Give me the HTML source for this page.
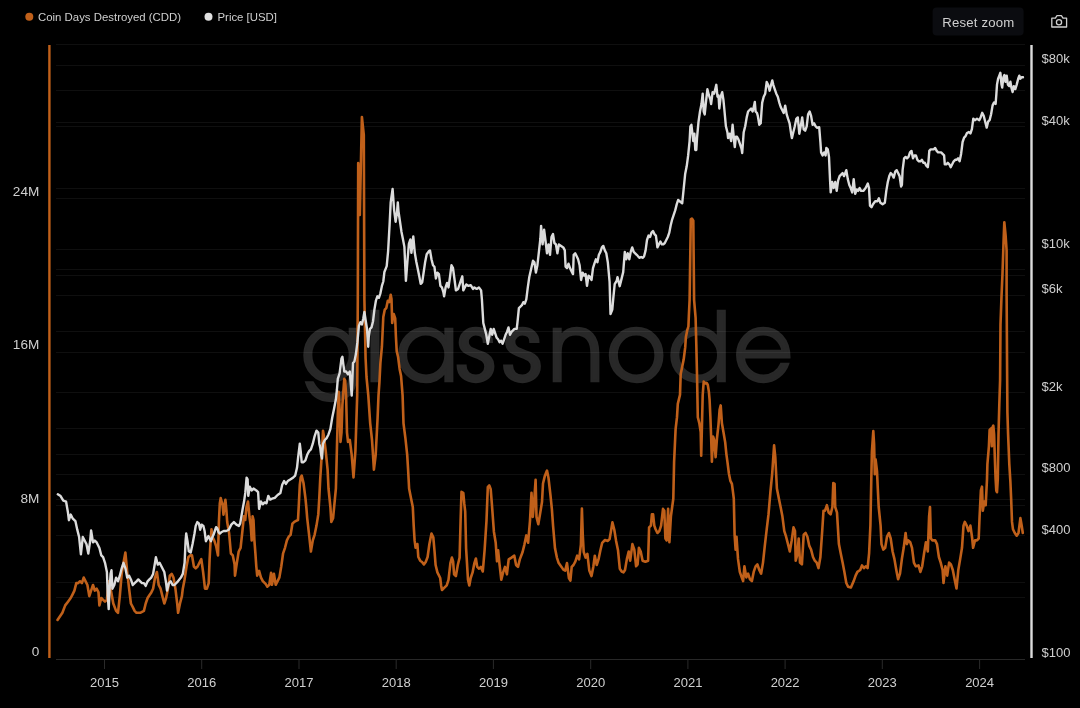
<!DOCTYPE html>
<html><head><meta charset="utf-8"><title>Coin Days Destroyed (CDD)</title>
<style>
html,body{margin:0;padding:0;background:#000;width:1080px;height:708px;overflow:hidden}
svg{display:block;will-change:transform}
text{font-family:"Liberation Sans",Arial,sans-serif}
</style></head><body>
<svg width="1080" height="708" viewBox="0 0 1080 708">
<rect width="1080" height="708" fill="#000"/>

<text transform="matrix(0.92 0 0 0.945 0 21.01)" x="326.7 397.6 429.7 495.7 546.3 595.6 658.8 725.6 796.9" y="381" font-size="100" fill="#282828" stroke="#282828" stroke-width="2.4" style="font-family:'TeX Gyre Adventor','Liberation Sans',sans-serif">gla<tspan textLength="43.5" lengthAdjust="spacingAndGlyphs">s</tspan><tspan textLength="43.5" lengthAdjust="spacingAndGlyphs">s</tspan>node</text>
<g stroke="#ffffff" stroke-opacity="0.06" stroke-width="1" shape-rendering="crispEdges">
<line x1="56" y1="44.5" x2="1025" y2="44.5"/>
<line x1="56" y1="65.5" x2="1025" y2="65.5"/>
<line x1="56" y1="90.5" x2="1025" y2="90.5"/>
<line x1="56" y1="122.5" x2="1025" y2="122.5"/>
<line x1="56" y1="126.5" x2="1025" y2="126.5"/>
<line x1="56" y1="188.5" x2="1025" y2="188.5"/>
<line x1="56" y1="198.5" x2="1025" y2="198.5"/>
<line x1="56" y1="249.5" x2="1025" y2="249.5"/>
<line x1="56" y1="269.5" x2="1025" y2="269.5"/>
<line x1="56" y1="275.5" x2="1025" y2="275.5"/>
<line x1="56" y1="295.5" x2="1025" y2="295.5"/>
<line x1="56" y1="331.5" x2="1025" y2="331.5"/>
<line x1="56" y1="352.5" x2="1025" y2="352.5"/>
<line x1="56" y1="392.5" x2="1025" y2="392.5"/>
<line x1="56" y1="428.5" x2="1025" y2="428.5"/>
<line x1="56" y1="454.5" x2="1025" y2="454.5"/>
<line x1="56" y1="474.5" x2="1025" y2="474.5"/>
<line x1="56" y1="499.5" x2="1025" y2="499.5"/>
<line x1="56" y1="505.5" x2="1025" y2="505.5"/>
<line x1="56" y1="535.5" x2="1025" y2="535.5"/>
<line x1="56" y1="582.5" x2="1025" y2="582.5"/>
<line x1="56" y1="597.5" x2="1025" y2="597.5"/>
</g>
<line x1="56" y1="659.5" x2="1025" y2="659.5" stroke="#282828" stroke-width="1"/>
<g stroke="#2a2a2a" stroke-width="1">
<line x1="104.5" y1="659" x2="104.5" y2="669"/>
<line x1="201.7" y1="659" x2="201.7" y2="669"/>
<line x1="299.0" y1="659" x2="299.0" y2="669"/>
<line x1="396.2" y1="659" x2="396.2" y2="669"/>
<line x1="493.4" y1="659" x2="493.4" y2="669"/>
<line x1="590.7" y1="659" x2="590.7" y2="669"/>
<line x1="687.9" y1="659" x2="687.9" y2="669"/>
<line x1="785.1" y1="659" x2="785.1" y2="669"/>
<line x1="882.3" y1="659" x2="882.3" y2="669"/>
<line x1="979.6" y1="659" x2="979.6" y2="669"/>
</g>
<rect x="48.2" y="45" width="2.4" height="613" fill="#c0601a"/>
<rect x="1030.3" y="45" width="2.4" height="613" fill="#dcdcdc"/>
<g font-size="13" fill="#cfcfcf">
<text x="39.3" y="656.0" text-anchor="end" font-size="13.6">0</text>
<text x="39.3" y="502.7" text-anchor="end" font-size="13.6">8M</text>
<text x="39.3" y="349.4" text-anchor="end" font-size="13.6">16M</text>
<text x="39.3" y="196.1" text-anchor="end" font-size="13.6">24M</text>
<text x="1041.6" y="656.7">$100</text>
<text x="1041.6" y="533.6">$400</text>
<text x="1041.6" y="472.0">$800</text>
<text x="1041.6" y="390.6">$2k</text>
<text x="1041.6" y="293.1">$6k</text>
<text x="1041.6" y="247.7">$10k</text>
<text x="1041.6" y="124.6">$40k</text>
<text x="1041.6" y="63.0">$80k</text>
<text x="104.5" y="686.9" text-anchor="middle">2015</text>
<text x="201.7" y="686.9" text-anchor="middle">2016</text>
<text x="299.0" y="686.9" text-anchor="middle">2017</text>
<text x="396.2" y="686.9" text-anchor="middle">2018</text>
<text x="493.4" y="686.9" text-anchor="middle">2019</text>
<text x="590.7" y="686.9" text-anchor="middle">2020</text>
<text x="687.9" y="686.9" text-anchor="middle">2021</text>
<text x="785.1" y="686.9" text-anchor="middle">2022</text>
<text x="882.3" y="686.9" text-anchor="middle">2023</text>
<text x="979.6" y="686.9" text-anchor="middle">2024</text>
</g>
<path d="M57.5,620.0 L62.4,612.8 L65.2,605.4 L68.0,601.7 L70.7,598.0 L72.6,594.3 L74.4,590.6 L76.3,583.1 L78.1,583.1 L80.0,581.3 L81.9,583.1 L83.7,577.6 L85.6,581.3 L87.4,585.0 L89.3,596.1 L91.1,590.6 L93.0,585.0 L94.8,590.6 L96.7,588.7 L98.5,592.4 L99.4,605.4 L101.3,598.0 L103.1,599.8 L105.0,601.7 L106.9,599.8 L108.7,581.3 L110.6,588.7 L113.3,603.5 L116.1,610.9 L118.0,612.8 L119.8,596.1 L121.7,573.9 L123.5,562.8 L125.4,552.6 L127.2,572.0 L129.1,588.7 L130.9,603.5 L132.8,607.2 L134.6,610.9 L136.5,612.8 L140.2,612.8 L143.9,610.9 L145.7,603.5 L147.6,598.0 L149.4,595.2 L151.3,592.4 L153.1,588.7 L155.0,577.6 L156.9,572.0 L158.7,585.0 L160.6,588.7 L162.4,596.1 L164.3,603.5 L166.1,598.0 L168.0,588.7 L169.8,575.7 L171.7,573.9 L173.5,577.6 L175.4,588.7 L177.2,603.5 L178.1,612.8 L180.0,603.5 L181.9,596.1 L182.8,588.7 L184.6,579.4 L186.5,566.5 L188.3,557.2 L190.2,555.4 L192.0,555.4 L193.9,566.5 L195.7,568.3 L197.6,566.5 L199.4,562.8 L201.3,559.1 L203.1,572.0 L205.0,588.7 L206.9,588.7 L208.7,583.1 L209.6,559.1 L210.6,540.6 L211.5,529.4 L212.4,536.9 L214.3,540.6 L216.1,546.1 L218.0,555.4 L218.9,522.0 L219.8,503.5 L220.7,498.0 L222.6,505.4 L223.5,514.6 L224.4,505.4 L225.4,499.8 L226.3,509.1 L227.2,522.0 L229.1,533.1 L230.9,553.5 L232.8,555.4 L234.6,564.6 L235.0,575.6 L236.9,562.6 L238.7,551.5 L240.6,547.8 L242.4,531.1 L243.9,516.3 L245.2,520.0 L246.5,507.0 L248.0,501.5 L249.4,516.3 L250.7,525.6 L251.7,540.4 L252.6,516.3 L253.5,520.0 L254.4,540.4 L255.4,553.3 L256.3,566.3 L257.2,575.6 L259.1,570.9 L260.9,577.4 L262.8,581.1 L265.6,583.9 L267.4,586.7 L269.3,584.8 L271.1,572.8 L272.0,584.8 L273.9,573.7 L275.7,584.8 L277.6,581.1 L279.4,577.4 L281.3,566.3 L283.1,553.3 L285.0,547.8 L286.9,540.4 L288.7,536.7 L290.6,534.8 L292.4,523.7 L294.3,521.9 L296.1,520.9 L298.0,520.0 L298.9,503.3 L299.8,484.8 L300.7,477.4 L301.7,475.6 L303.5,483.0 L305.4,497.8 L306.3,507.0 L307.2,518.1 L309.1,534.8 L310.9,551.5 L312.8,540.4 L314.6,534.8 L316.5,525.6 L318.3,514.4 L319.3,497.8 L320.2,479.3 L322.0,451.0 L323.0,430.7 L323.9,436.3 L325.7,451.0 L327.6,469.6 L328.5,488.5 L330.4,507.0 L331.3,521.9 L333.1,518.1 L335.0,497.8 L335.9,488.5 L337.8,414.0 L338.7,391.9 L339.6,408.5 L340.5,441.9 L341.5,432.6 L342.4,404.8 L344.3,378.9 L345.2,380.7 L346.1,395.6 L347.0,432.6 L348.0,441.9 L349.8,440.0 L351.7,454.8 L353.5,477.4 L355.4,451.0 L357.2,395.6 L357.8,300.0 L358.2,163.0 L359.8,215.0 L361.9,117.0 L363.8,135.0 L364.4,300.0 L365.6,358.5 L366.5,377.0 L368.3,395.6 L370.2,423.3 L372.0,440.0 L373.0,454.8 L373.9,469.6 L375.7,454.8 L377.6,417.8 L378.5,395.6 L379.4,382.6 L380.4,363.0 L381.9,346.7 L383.3,317.0 L384.8,309.6 L386.3,308.0 L387.8,300.7 L389.3,302.0 L390.7,294.8 L391.5,299.0 L392.2,323.0 L393.0,317.0 L393.7,314.0 L395.2,318.5 L395.9,336.3 L396.7,351.1 L398.1,357.0 L399.6,368.9 L401.1,376.3 L402.6,395.6 L403.5,423.3 L405.4,438.1 L407.2,454.8 L408.1,469.6 L409.1,488.5 L410.9,497.8 L412.8,507.0 L413.7,525.6 L414.6,540.4 L415.6,547.8 L417.4,544.0 L418.3,557.0 L420.2,560.7 L422.0,562.0 L423.9,564.4 L425.7,562.0 L427.6,557.0 L429.4,544.0 L431.5,533.5 L433.3,537.2 L434.6,552.0 L435.6,565.0 L437.4,572.4 L439.3,576.1 L440.2,578.0 L441.1,585.4 L442.0,590.0 L443.9,588.1 L446.7,585.4 L448.5,579.8 L450.4,563.1 L451.9,557.6 L453.1,561.3 L454.1,574.3 L455.9,576.1 L457.8,565.0 L459.6,557.6 L460.6,520.6 L461.5,491.9 L463.3,492.8 L464.3,503.9 L465.2,511.3 L466.1,548.3 L468.0,579.8 L469.3,585.4 L470.7,578.0 L472.6,572.4 L474.4,563.1 L475.9,558.5 L477.2,566.9 L479.1,568.7 L480.9,566.9 L482.8,571.5 L484.6,550.2 L486.5,520.6 L487.8,487.2 L489.3,485.4 L490.7,489.1 L492.0,505.7 L493.9,531.7 L495.7,542.8 L497.0,561.3 L498.1,550.2 L499.4,563.1 L501.3,579.8 L503.1,572.4 L505.0,566.9 L506.9,574.3 L508.7,559.4 L511.5,557.6 L514.3,555.7 L516.1,565.0 L518.0,566.9 L519.8,559.4 L522.6,552.0 L524.4,544.6 L526.3,535.4 L528.1,542.8 L530.0,520.6 L531.5,492.8 L532.8,516.9 L534.1,502.0 L535.6,479.8 L536.5,516.9 L538.3,524.3 L540.2,513.1 L542.0,502.0 L543.0,483.5 L544.8,476.1 L547.0,470.6 L548.5,478.0 L550.4,494.6 L551.9,509.4 L553.1,526.1 L555.0,548.3 L556.9,557.6 L558.7,563.1 L561.5,566.9 L563.3,569.6 L565.2,570.6 L567.0,563.1 L568.9,578.0 L570.4,580.7 L571.7,566.9 L573.5,565.0 L575.4,561.3 L577.2,555.7 L579.1,559.4 L580.9,544.6 L581.9,508.5 L582.8,535.4 L583.7,552.0 L585.6,557.6 L587.4,553.9 L589.3,570.6 L591.5,576.1 L593.3,566.9 L594.8,555.7 L596.7,565.0 L598.5,559.4 L600.4,550.2 L602.2,542.8 L605.0,540.0 L607.8,540.9 L609.6,539.1 L611.5,528.0 L612.4,522.4 L614.3,529.8 L616.1,540.9 L618.0,550.2 L619.8,568.7 L621.7,571.5 L623.5,572.4 L625.0,570.0 L626.9,558.9 L628.7,551.5 L630.2,560.7 L632.4,544.1 L634.3,549.6 L636.1,566.3 L637.6,564.4 L638.9,547.8 L640.7,551.5 L642.6,560.7 L645.4,561.7 L648.1,560.7 L649.1,527.4 L650.9,525.6 L651.9,514.4 L653.1,514.4 L654.3,525.6 L655.6,529.3 L657.4,533.0 L659.3,531.1 L661.1,525.6 L663.0,508.9 L664.3,510.7 L665.4,538.5 L666.7,540.4 L668.1,508.9 L669.4,542.2 L670.9,516.3 L673.3,498.7 L674.1,461.7 L675.6,429.1 L677.0,417.2 L677.8,403.9 L680.0,394.8 L680.7,374.0 L682.2,366.7 L683.7,359.3 L685.2,347.4 L685.9,337.0 L687.4,329.6 L688.4,326.7 L688.9,314.8 L689.6,300.0 L690.8,219.3 L691.9,218.5 L693.3,220.7 L694.1,300.0 L695.6,317.8 L696.3,344.4 L697.0,374.0 L697.8,417.2 L699.3,423.1 L700.7,432.0 L701.2,455.7 L701.8,432.0 L702.7,395.0 L703.7,381.5 L705.2,383.5 L706.7,383.0 L707.8,385.0 L708.9,391.9 L709.6,400.0 L710.4,417.2 L711.1,436.5 L711.9,461.7 L713.0,436.5 L714.1,439.4 L715.6,457.2 L717.0,438.0 L718.5,424.6 L719.6,409.8 L720.7,405.4 L721.9,423.1 L723.7,433.5 L725.2,442.4 L726.4,454.3 L727.4,461.7 L728.9,473.5 L730.4,480.9 L731.9,483.9 L732.9,491.3 L733.8,498.7 L734.6,534.8 L735.6,549.6 L736.5,536.7 L738.0,558.9 L739.8,571.9 L741.7,577.4 L743.1,581.1 L744.4,566.3 L746.3,577.4 L748.1,573.7 L750.0,579.3 L751.9,581.1 L753.7,571.9 L755.6,566.3 L757.4,564.4 L759.3,570.0 L761.1,573.7 L763.0,562.6 L764.8,545.9 L766.7,529.3 L768.5,514.4 L770.4,492.2 L772.2,473.7 L774.1,445.4 L775.3,457.2 L776.9,488.5 L778.7,497.8 L780.6,507.0 L782.4,516.3 L784.3,531.1 L786.1,536.7 L788.0,544.1 L789.8,551.5 L791.7,540.4 L793.5,527.4 L795.0,531.1 L795.7,560.7 L797.2,555.2 L798.7,538.5 L800.0,562.6 L801.9,564.4 L803.7,534.8 L805.6,533.0 L807.4,536.7 L809.3,545.9 L811.1,549.6 L813.0,557.0 L814.8,560.7 L816.7,562.6 L818.5,568.1 L820.4,557.0 L822.2,531.1 L823.5,510.7 L825.0,510.7 L826.9,505.2 L828.7,512.6 L830.6,514.4 L832.4,507.0 L833.3,483.0 L834.6,483.9 L835.2,507.0 L837.0,512.6 L838.9,544.1 L840.7,553.3 L842.6,562.6 L844.4,571.9 L846.3,583.0 L848.1,586.7 L850.9,587.6 L853.7,581.1 L855.6,575.6 L857.4,571.9 L860.2,570.0 L862.0,565.4 L863.9,568.1 L865.7,566.3 L867.6,568.1 L869.1,553.3 L870.4,525.6 L871.3,479.3 L871.9,451.9 L873.3,431.1 L874.1,444.4 L874.8,474.1 L875.6,459.3 L877.0,471.1 L877.8,488.9 L878.7,507.0 L880.6,525.6 L881.5,544.1 L883.3,549.6 L885.2,547.8 L887.0,536.7 L888.9,533.0 L890.7,538.5 L892.6,551.5 L894.4,558.9 L896.3,570.0 L898.1,579.3 L900.0,573.7 L901.9,558.9 L903.7,547.8 L905.6,533.0 L906.9,544.1 L908.3,540.4 L910.2,542.2 L912.0,547.8 L913.9,562.6 L915.7,566.3 L918.5,565.4 L920.4,571.9 L922.2,566.3 L924.1,553.3 L925.9,542.2 L927.8,551.5 L929.1,516.3 L930.0,507.0 L930.9,538.5 L932.4,540.4 L935.2,540.4 L937.0,544.1 L938.9,557.0 L940.7,562.6 L942.6,570.0 L943.5,583.0 L945.4,566.3 L947.2,575.6 L949.1,562.6 L950.9,564.4 L952.8,570.0 L954.6,579.3 L956.5,588.5 L958.3,570.0 L960.2,558.9 L962.0,547.8 L963.5,525.6 L964.8,521.9 L966.7,525.6 L968.5,531.1 L970.4,525.6 L972.2,538.5 L973.1,547.8 L975.0,540.4 L976.9,540.4 L978.7,538.5 L979.6,516.3 L980.9,490.4 L982.0,486.7 L982.8,510.7 L984.3,501.5 L985.7,505.2 L987.0,479.3 L987.4,464.1 L988.9,446.3 L989.6,430.0 L991.1,428.5 L991.9,446.3 L992.6,427.0 L993.3,425.6 L994.1,434.4 L994.8,456.7 L995.6,478.9 L996.3,490.7 L997.0,492.2 L997.8,478.9 L998.5,434.4 L999.3,404.8 L1000.1,380.0 L1000.5,324.4 L1001.5,296.4 L1002.5,273.6 L1003.6,240.5 L1004.3,222.2 L1005.6,235.4 L1006.6,250.7 L1006.6,291.4 L1007.1,370.2 L1007.4,412.2 L1008.1,434.4 L1009.3,464.1 L1010.4,481.9 L1011.1,497.8 L1012.0,521.9 L1013.0,529.3 L1014.8,533.0 L1016.7,535.7 L1018.5,533.0 L1020.4,518.1 L1021.7,525.6 L1022.8,533.0" fill="none" stroke="#c0601a" stroke-width="2.6" stroke-linejoin="round" stroke-linecap="round"/>
<path d="M57.8,494.3 L60.6,496.1 L63.3,500.7 L66.1,501.7 L68.0,512.8 L68.9,520.2 L70.7,514.6 L72.6,518.3 L75.4,521.1 L77.2,529.4 L79.1,536.9 L80.9,554.4 L82.8,536.9 L84.6,540.6 L86.5,544.3 L88.3,553.5 L90.2,540.6 L91.1,530.4 L93.0,542.4 L94.8,540.6 L96.7,542.4 L99.4,548.0 L101.3,555.4 L103.1,557.2 L105.0,562.8 L106.9,572.0 L107.8,596.1 L108.7,609.1 L109.6,588.7 L110.6,573.9 L111.5,570.2 L112.4,588.7 L114.3,585.0 L116.1,577.6 L118.0,581.3 L119.8,575.7 L121.7,568.3 L123.5,562.8 L125.4,568.3 L127.2,577.6 L129.1,575.7 L130.9,579.4 L132.8,585.0 L134.6,583.1 L136.5,581.3 L138.3,579.4 L140.2,581.3 L142.0,583.1 L143.9,583.1 L145.7,585.9 L147.6,581.3 L149.4,579.4 L151.3,577.6 L153.1,573.9 L155.0,562.8 L155.9,557.2 L157.8,564.6 L159.6,562.8 L161.5,566.5 L164.3,572.0 L166.1,583.1 L167.0,590.6 L168.9,583.1 L170.7,581.3 L172.6,585.0 L174.4,585.0 L177.2,582.2 L180.9,577.6 L182.8,573.9 L184.6,562.8 L185.6,540.6 L186.2,533.5 L187.5,541.2 L188.8,551.3 L190.7,552.6 L192.6,543.7 L194.5,533.5 L195.7,525.9 L197.3,522.1 L198.9,523.4 L200.2,529.7 L201.5,524.6 L203.4,525.9 L204.6,531.0 L205.9,541.2 L207.2,538.6 L208.4,536.1 L209.7,538.6 L211.0,541.2 L212.3,537.3 L213.5,534.8 L214.8,531.0 L216.1,527.2 L217.3,528.4 L218.6,532.3 L219.9,533.5 L221.2,532.3 L223.7,531.0 L226.2,531.0 L228.8,529.7 L231.3,524.6 L233.9,522.1 L236.4,524.6 L238.9,525.9 L240.2,523.4 L241.5,515.7 L242.8,508.1 L244.0,501.8 L245.3,492.9 L246.6,477.6 L247.6,479.3 L248.3,495.9 L249.8,486.7 L251.7,490.4 L253.5,488.5 L256.3,490.4 L258.1,492.2 L259.1,508.9 L260.9,501.5 L262.8,504.3 L264.6,502.4 L266.5,503.3 L268.3,495.9 L270.2,499.6 L272.0,498.7 L274.8,497.8 L277.6,495.0 L280.4,493.1 L282.2,484.8 L284.1,481.1 L285.9,483.9 L287.8,481.1 L290.6,479.3 L293.3,477.4 L295.2,475.6 L297.0,467.8 L298.0,458.5 L299.8,443.7 L300.7,451.1 L301.7,462.2 L303.5,462.2 L305.4,460.4 L307.2,454.8 L309.1,451.1 L310.9,449.3 L312.8,443.7 L314.6,436.3 L316.5,430.7 L318.3,432.6 L319.3,443.7 L320.2,447.4 L321.1,454.8 L322.0,458.5 L323.0,443.7 L324.8,440.0 L326.7,438.1 L328.5,434.4 L330.4,428.9 L332.2,417.8 L334.1,408.5 L335.9,399.3 L336.9,390.0 L337.8,378.9 L339.6,373.3 L341.5,358.5 L342.4,356.7 L343.3,364.1 L344.3,371.5 L346.1,371.5 L348.0,374.3 L349.8,371.5 L351.7,395.6 L353.0,363.0 L354.4,361.5 L355.9,354.1 L357.4,342.2 L358.9,325.9 L360.4,322.2 L361.9,324.4 L363.3,318.5 L364.4,311.9 L365.6,320.0 L367.0,328.9 L368.2,346.7 L368.8,336.3 L370.0,328.9 L371.5,327.4 L373.0,321.5 L374.4,309.6 L375.9,300.7 L377.4,296.3 L378.9,297.8 L380.4,293.3 L381.9,285.9 L383.3,281.5 L384.4,272.0 L386.7,266.1 L388.1,251.3 L389.6,224.6 L390.7,202.4 L392.6,189.0 L394.1,209.8 L395.6,221.7 L397.0,212.8 L397.8,202.4 L398.5,211.3 L400.0,221.7 L401.5,232.0 L403.0,239.4 L404.4,246.9 L405.9,280.9 L407.4,261.7 L408.9,243.9 L410.4,239.4 L411.4,252.8 L413.3,236.5 L414.8,252.8 L416.3,261.7 L417.8,269.1 L419.3,276.5 L420.7,283.9 L422.2,282.4 L423.7,272.0 L425.2,261.7 L426.7,254.3 L428.9,251.3 L430.0,250.4 L431.5,259.3 L433.0,265.2 L434.4,266.7 L435.9,278.5 L437.4,272.6 L438.9,274.1 L440.4,285.9 L441.9,287.4 L443.3,291.9 L444.1,296.3 L445.6,287.4 L447.0,283.0 L448.5,287.4 L450.0,277.0 L451.5,265.2 L453.0,268.1 L454.4,278.5 L455.9,290.4 L458.1,288.9 L459.6,284.4 L461.1,280.0 L462.3,276.3 L463.3,290.4 L464.8,287.4 L466.3,284.4 L468.5,285.9 L470.7,285.2 L473.0,288.9 L474.4,287.4 L476.7,288.9 L478.9,287.4 L481.1,290.4 L481.9,299.3 L482.6,311.1 L483.3,323.0 L484.8,328.9 L486.3,334.8 L487.8,343.7 L489.3,336.3 L490.7,328.9 L492.2,334.8 L493.7,328.9 L495.2,333.3 L496.7,337.8 L498.1,339.3 L499.6,342.2 L501.1,340.7 L502.6,343.7 L504.1,339.3 L505.6,334.8 L507.0,331.9 L508.5,327.4 L510.0,334.8 L511.5,331.9 L513.0,330.4 L514.4,328.9 L516.7,328.9 L517.4,323.0 L518.9,308.1 L520.4,306.7 L521.9,305.2 L523.3,302.2 L524.8,303.7 L526.3,299.3 L527.8,287.4 L529.3,277.0 L533.0,260.7 L534.4,262.2 L535.9,272.6 L537.4,265.2 L538.9,251.9 L540.4,238.5 L541.1,225.9 L542.6,244.4 L544.1,229.6 L545.6,241.5 L547.0,253.3 L548.5,244.4 L550.0,254.8 L551.5,237.0 L553.0,234.1 L554.4,243.0 L555.9,244.4 L557.4,253.3 L558.9,244.4 L561.1,245.9 L563.3,247.4 L564.8,250.4 L565.6,266.7 L567.0,268.1 L568.5,263.7 L570.0,268.1 L571.5,271.1 L573.0,274.1 L573.7,254.8 L575.2,253.3 L576.7,256.3 L578.1,259.3 L579.6,265.2 L581.1,280.0 L582.6,272.6 L584.1,275.6 L585.6,274.1 L587.0,285.9 L588.5,275.6 L590.0,277.0 L591.5,280.0 L593.0,268.1 L594.4,263.7 L595.9,259.3 L597.4,262.2 L598.9,254.8 L600.4,251.9 L601.9,247.4 L603.3,245.9 L604.8,250.4 L606.3,253.3 L607.8,262.2 L609.6,282.0 L610.5,314.0 L612.3,309.5 L613.3,298.2 L614.0,291.2 L614.7,284.1 L616.8,280.6 L617.5,277.1 L619.7,286.2 L621.1,280.6 L623.2,272.1 L624.8,251.9 L626.3,259.3 L627.8,253.3 L629.3,259.3 L630.7,251.9 L632.2,247.4 L633.7,251.9 L635.2,253.3 L636.7,254.8 L638.1,256.3 L639.6,257.8 L641.1,257.0 L642.6,257.8 L644.1,256.3 L645.6,250.4 L647.0,240.0 L648.5,235.6 L650.0,237.0 L651.5,232.6 L653.0,231.1 L654.4,234.1 L655.9,235.6 L656.7,241.5 L657.4,247.4 L658.9,244.4 L660.4,241.5 L661.9,244.4 L663.3,244.4 L664.8,243.0 L666.3,240.0 L667.8,237.0 L669.3,232.6 L670.7,225.2 L672.2,219.3 L673.7,214.8 L675.2,210.4 L676.7,204.4 L678.1,200.0 L682.2,203.3 L685.2,173.7 L686.7,166.3 L688.1,155.9 L689.6,141.1 L690.4,126.3 L691.4,124.8 L692.6,135.2 L693.3,141.1 L694.4,133.7 L695.3,150.0 L696.3,150.0 L697.0,138.1 L698.5,121.9 L700.0,111.5 L701.5,104.1 L702.7,93.7 L703.7,111.5 L704.7,114.4 L705.9,102.6 L707.4,89.3 L708.9,95.2 L710.4,99.6 L711.1,104.1 L712.6,92.2 L714.1,93.7 L715.6,87.8 L716.3,84.8 L717.5,96.7 L718.5,95.2 L719.3,108.5 L720.7,96.7 L722.2,92.2 L723.4,99.6 L724.4,110.0 L725.9,126.3 L727.4,132.2 L728.1,138.1 L729.6,133.7 L731.1,141.1 L732.6,124.8 L734.1,141.1 L734.8,147.0 L735.9,136.7 L737.0,136.7 L738.5,139.6 L740.0,144.1 L741.5,148.5 L742.2,153.0 L743.7,132.2 L745.2,126.3 L746.7,117.4 L748.1,111.5 L749.6,110.0 L751.1,108.5 L752.6,111.5 L754.1,105.6 L754.8,101.9 L755.6,111.5 L757.0,113.0 L757.8,115.9 L759.3,124.8 L760.7,123.3 L761.5,111.5 L762.2,102.6 L763.7,96.7 L765.2,93.7 L766.7,81.9 L768.1,84.8 L769.6,90.7 L771.1,84.8 L772.3,80.4 L773.3,84.8 L774.8,89.3 L776.3,93.7 L777.8,96.7 L779.3,102.6 L780.7,107.0 L782.2,110.0 L783.7,113.0 L785.2,105.6 L786.7,114.4 L788.1,118.9 L789.6,123.3 L791.1,133.7 L791.9,138.1 L793.3,132.2 L794.8,126.3 L796.3,118.9 L797.8,117.4 L799.3,133.7 L800.7,126.3 L802.2,117.4 L803.7,129.3 L805.2,130.7 L806.7,126.3 L808.1,114.4 L809.6,111.5 L811.1,115.9 L812.6,124.8 L814.1,123.3 L815.6,126.3 L817.0,127.8 L819.2,127.2 L820.4,142.0 L821.1,152.4 L822.6,155.4 L824.1,152.4 L825.6,155.4 L826.3,148.0 L827.8,149.4 L829.0,156.9 L830.0,179.1 L830.7,192.4 L832.2,182.0 L833.7,188.0 L835.2,182.0 L836.7,190.9 L838.1,180.6 L839.6,176.1 L841.1,174.6 L842.6,173.1 L844.1,176.1 L846.3,170.2 L847.8,179.1 L849.3,185.0 L850.7,188.0 L852.2,192.4 L853.7,179.1 L855.2,193.9 L856.7,189.4 L858.1,190.9 L859.6,188.0 L861.1,190.9 L863.3,190.9 L865.6,188.0 L867.8,183.5 L869.0,188.0 L870.0,205.7 L871.5,207.2 L873.0,204.3 L875.2,201.3 L877.4,201.3 L878.9,198.3 L880.4,202.8 L882.6,204.3 L884.8,202.8 L886.3,190.9 L887.8,182.0 L889.3,176.1 L890.7,173.1 L892.2,174.6 L893.7,177.6 L895.2,171.7 L896.7,170.2 L898.1,173.1 L899.6,176.1 L901.1,186.5 L901.9,185.0 L902.6,170.2 L904.1,158.3 L905.6,156.9 L907.0,158.3 L908.5,156.9 L910.0,152.4 L911.5,150.9 L913.0,158.3 L914.4,155.4 L915.9,155.4 L917.4,159.8 L918.9,161.3 L920.4,161.3 L921.9,159.8 L923.3,162.8 L924.8,162.8 L926.3,165.7 L927.8,167.2 L928.5,161.3 L929.3,150.9 L930.7,149.4 L932.2,149.4 L933.7,149.4 L935.2,148.0 L936.7,150.9 L938.1,152.4 L939.6,152.4 L941.1,152.4 L942.6,153.9 L944.1,155.4 L944.8,164.3 L946.3,164.3 L947.8,162.8 L949.3,164.3 L950.7,167.2 L952.2,164.3 L953.7,161.3 L955.2,159.8 L956.7,159.8 L958.1,158.3 L959.6,161.3 L961.1,153.9 L962.6,142.0 L964.1,137.6 L965.6,136.1 L967.0,133.1 L968.9,132.0 L970.4,133.5 L971.9,129.1 L973.3,118.7 L974.8,120.2 L977.0,118.7 L979.3,120.2 L980.7,117.2 L982.2,112.8 L983.7,115.7 L985.2,121.7 L986.7,127.6 L988.1,121.7 L989.6,120.2 L991.1,114.3 L992.6,105.4 L994.1,102.4 L995.6,103.9 L996.3,95.0 L997.0,84.6 L998.1,78.7 L999.3,75.7 L1000.4,72.8 L1001.5,84.6 L1002.2,87.6 L1003.4,77.2 L1004.4,75.0 L1005.5,81.7 L1006.7,75.7 L1007.9,84.6 L1009.3,86.1 L1010.4,81.7 L1011.4,87.6 L1012.6,92.0 L1013.8,86.1 L1015.3,89.1 L1016.7,84.6 L1018.2,78.7 L1019.3,75.7 L1020.3,78.7 L1021.5,77.2 L1023.0,77.2" fill="none" stroke="#dcdcdc" stroke-width="2.4" stroke-linejoin="round" stroke-linecap="round"/>
<circle cx="29.3" cy="16.8" r="4" fill="#c0601a"/>
<text x="38" y="21" font-size="11.4" fill="#cfcfcf">Coin Days Destroyed (CDD)</text>
<circle cx="208.5" cy="16.8" r="4" fill="#e0e0e0"/>
<text x="217.5" y="21" font-size="11.4" fill="#cfcfcf">Price [USD]</text>
<rect x="932.6" y="7.4" width="91" height="28.2" rx="4" fill="#0b0c10"/>
<text x="942.3" y="26.5" font-size="13.2" fill="#cfcfcf" textLength="72" lengthAdjust="spacing">Reset zoom</text>
<g fill="none" stroke="#cfcfcf" stroke-width="1.3" stroke-linejoin="round"><path d="M1051.8,18.2 h3.6 l1.6,-2.6 h4.4 l1.6,2.6 h3.6 v8.8 h-14.8 z"/><circle cx="1059" cy="22.2" r="2.6"/></g>
</svg></body></html>
